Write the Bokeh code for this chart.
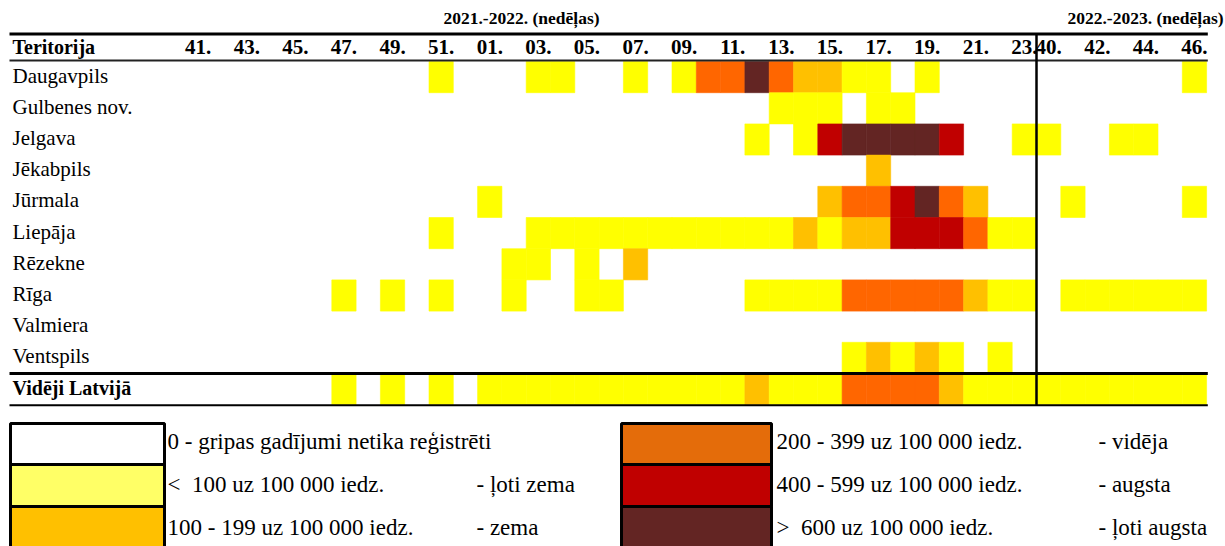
from bokeh.plotting import figure
from bokeh.models import ColumnDataSource, Range1d
from bokeh.embed import file_html
from bokeh.resources import INLINE
from bokeh.core.properties import value

# ---------------- data ----------------
territories = ["Daugavpils", "Gulbenes nov.", "Jelgava", "Jēkabpils", "Jūrmala",
               "Liepāja", "Rēzekne", "Rīga", "Valmiera", "Ventspils", "Vidēji Latvijā"]

weeks_2021 = ["41", "42", "43", "44", "45", "46", "47", "48", "49", "50", "51", "52"]
weeks_2022 = ["01", "02", "03", "04", "05", "06", "07", "08", "09", "10", "11", "12",
              "13", "14", "15", "16", "17", "18", "19", "20", "21", "22", "23"]
weeks_2023 = ["40", "41", "42", "43", "44", "45", "46"]

season_labels = ["2021.-2022. (nedēļas)", "2022.-2023. (nedēļas)"]

# incidence level per week: 0 none, 1 <100, 2 100-199, 3 200-399, 4 400-599, 5 >600
daugavpils = [0, 0, 0, 0, 0, 0, 0, 0, 0, 0, 1, 0,
              0, 0, 1, 1, 0, 0, 1, 0, 1, 3, 3, 5, 3, 2, 2, 1, 1, 0, 1, 0, 0, 0, 0,
              0, 0, 0, 0, 0, 0, 1]
gulbenes = [0, 0, 0, 0, 0, 0, 0, 0, 0, 0, 0, 0,
            0, 0, 0, 0, 0, 0, 0, 0, 0, 0, 0, 0, 1, 1, 1, 0, 1, 1, 0, 0, 0, 0, 0,
            0, 0, 0, 0, 0, 0, 0]
jelgava = [0, 0, 0, 0, 0, 0, 0, 0, 0, 0, 0, 0,
           0, 0, 0, 0, 0, 0, 0, 0, 0, 0, 0, 1, 0, 1, 4, 5, 5, 5, 5, 4, 0, 0, 1,
           1, 0, 0, 1, 1, 0, 0]
jekabpils = [0, 0, 0, 0, 0, 0, 0, 0, 0, 0, 0, 0,
             0, 0, 0, 0, 0, 0, 0, 0, 0, 0, 0, 0, 0, 0, 0, 0, 2, 0, 0, 0, 0, 0, 0,
             0, 0, 0, 0, 0, 0, 0]
jurmala = [0, 0, 0, 0, 0, 0, 0, 0, 0, 0, 0, 0,
           1, 0, 0, 0, 0, 0, 0, 0, 0, 0, 0, 0, 0, 0, 2, 3, 3, 4, 5, 3, 2, 0, 0,
           0, 1, 0, 0, 0, 0, 1]
liepaja = [0, 0, 0, 0, 0, 0, 0, 0, 0, 0, 1, 0,
           0, 0, 1, 1, 1, 1, 1, 1, 1, 1, 1, 1, 1, 2, 1, 2, 2, 4, 4, 4, 3, 1, 1,
           0, 0, 0, 0, 0, 0, 0]
rezekne = [0, 0, 0, 0, 0, 0, 0, 0, 0, 0, 0, 0,
           0, 1, 1, 0, 1, 0, 2, 0, 0, 0, 0, 0, 0, 0, 0, 0, 0, 0, 0, 0, 0, 0, 0,
           0, 0, 0, 0, 0, 0, 0]
riga = [0, 0, 0, 0, 0, 0, 1, 0, 1, 0, 1, 0,
        0, 1, 0, 0, 1, 1, 0, 0, 0, 0, 0, 1, 1, 1, 1, 3, 3, 3, 3, 3, 2, 1, 1,
        0, 1, 1, 1, 1, 1, 1]
valmiera = [0, 0, 0, 0, 0, 0, 0, 0, 0, 0, 0, 0,
            0, 0, 0, 0, 0, 0, 0, 0, 0, 0, 0, 0, 0, 0, 0, 0, 0, 0, 0, 0, 0, 0, 0,
            0, 0, 0, 0, 0, 0, 0]
ventspils = [0, 0, 0, 0, 0, 0, 0, 0, 0, 0, 0, 0,
             0, 0, 0, 0, 0, 0, 0, 0, 0, 0, 0, 0, 0, 0, 0, 1, 2, 1, 2, 1, 0, 1, 0,
             0, 0, 0, 0, 0, 0, 0]
videji = [0, 0, 0, 0, 0, 0, 1, 0, 1, 0, 1, 0,
          1, 1, 1, 1, 1, 1, 1, 1, 1, 1, 1, 2, 1, 1, 1, 3, 3, 3, 3, 2, 1, 1, 1,
          1, 1, 1, 1, 1, 1, 1]

series = [daugavpils, gulbenes, jelgava, jekabpils, jurmala, liepaja,
          rezekne, riga, valmiera, ventspils, videji]

level_colors = ["#FFFFFF", "#FFFF00", "#FFC000", "#FF6600", "#C00000", "#632523"]
legend_colors = ["#FFFFFF", "#FFFF66", "#FFC000", "#E46C0A", "#C00000", "#632523"]
legend_ranges = ["0 - gripas gadījumi netika reģistrēti",
                 "<\u00a0\u00a0100 uz 100 000 iedz.",
                 "100 - 199 uz 100 000 iedz.",
                 "200 - 399 uz 100 000 iedz.",
                 "400 - 599 uz 100 000 iedz.",
                 ">\u00a0\u00a0600 uz 100 000 iedz."]
legend_levels = ["", "- ļoti zema", "- zema", "- vidēja", "- augsta", "- ļoti augsta"]

# ---------------- layout ----------------
FIG_W, FIG_H = 1225, 546
ORG = 0                   # page origin of the canvas (template has no margin)
X0, CW = 185.5, 24.3      # pixel x of first week column, column width
Y0, RH = 61.0, 31.2       # pixel y of first territory row, row height
TDY = -10.0               # text baseline correction
FONT = value("Liberation Serif")


def px(x):
    return (x - X0) / CW


def py(y):
    return (y - Y0) / RH


def ty(y):
    return py(y + TDY)


all_weeks = weeks_2021 + weeks_2022 + weeks_2023
n_first = len(weeks_2021) + len(weeks_2022)
n_cols = len(all_weeks)

p = figure(width=FIG_W, height=FIG_H,
           x_range=Range1d(px(ORG), px(ORG + FIG_W)),
           y_range=Range1d(py(ORG + FIG_H), py(ORG)),
           output_backend="svg", toolbar_location=None, min_border=0,
           x_axis_location=None, y_axis_location=None)
p.grid.visible = False
p.outline_line_color = None
p.background_fill_color = "white"
p.border_fill_color = "white"

# heat cells
cl, cr, ct, cb, cc = [], [], [], [], []
for r, lv in enumerate(series):
    for c, v in enumerate(lv):
        if v > 0:
            cl.append(c)
            cr.append(c + 1)
            ct.append(r)
            cb.append(r + 1)
            cc.append(level_colors[v])
cells = ColumnDataSource(dict(left=cl, right=cr, top=ct, bottom=cb, color=cc))
p.quad(left="left", right="right", top="top", bottom="bottom", source=cells,
       fill_color="color", line_color="color", line_width=0.6)

# week labels (every second week within each season)
tx, tt = [], []
for i, w in enumerate(all_weeks):
    start = 0 if i < n_first else n_first
    if (i - start) % 2 == 0:
        tx.append(i + 0.5)
        tt.append(w + ".")
p.text(x=tx, y=[ty(56)] * len(tx), text=tt, text_font=FONT, text_font_style="bold",
       text_font_size="21px", text_align="center", text_baseline="alphabetic",
       text_color="black")

# header
p.text(x=[px(12)], y=[ty(56)], text=["Teritorija"], text_font=FONT,
       text_font_style="bold", text_font_size="20px", text_align="left",
       text_baseline="alphabetic", text_color="black")
p.text(x=[px(521), px(1145)], y=[ty(27), ty(27)], text=season_labels,
       text_font=FONT, text_font_style="bold", text_font_size="17.5px",
       text_align="center", text_baseline="alphabetic", text_color="black")

# row labels
n_rows = len(territories)
row_base = [Y0 + RH * r + 24 for r in range(n_rows)]
p.text(x=[px(12)] * (n_rows - 1), y=[ty(b) for b in row_base[:-1]],
       text=territories[:-1], text_font=FONT, text_font_size="21px",
       text_align="left", text_baseline="alphabetic", text_color="black")
p.text(x=[px(12)], y=[ty(row_base[-1])], text=territories[-1:], text_font=FONT,
       text_font_style="bold", text_font_size="20px", text_align="left",
       text_baseline="alphabetic", text_color="black")

# table rules
right_edge = n_cols + 0.05
p.segment(x0=[px(9)], y0=[py(33.5)], x1=[right_edge], y1=[py(33.5)],
          line_color="black", line_width=3)
p.segment(x0=[px(9)], y0=[py(60)], x1=[right_edge], y1=[py(60)],
          line_color="#222222", line_width=2)
p.segment(x0=[px(9)], y0=[n_rows - 1], x1=[right_edge], y1=[n_rows - 1],
          line_color="black", line_width=3)
p.segment(x0=[px(9)], y0=[n_rows + 0.02], x1=[right_edge], y1=[n_rows + 0.02],
          line_color="black", line_width=2)
p.segment(x0=[n_first], y0=[py(33)], x1=[n_first], y1=[n_rows + 0.02],
          line_color="black", line_width=2.5)

# legend
box_x = [(10, 164), (621, 771)]
box_y = [(423, 464), (464, 506), (506, 548)]
text_x = [(167, 476), (776, 1098)]
base_y = [451, 494, 537]
for k in range(6):
    col, row = divmod(k, 3)
    (bx0, bx1), (by0, by1) = box_x[col], box_y[row]
    p.quad(left=[px(bx0)], right=[px(bx1)], top=[py(by0)], bottom=[py(by1)],
           fill_color=legend_colors[k], line_color="black", line_width=3)
    p.text(x=[px(text_x[col][0])], y=[ty(base_y[row])], text=[legend_ranges[k]],
           text_font=FONT, text_font_size="23px", text_align="left",
           text_baseline="alphabetic", text_color="black")
    if legend_levels[k]:
        p.text(x=[px(text_x[col][1])], y=[ty(base_y[row])], text=[legend_levels[k]],
               text_font=FONT, text_font_size="23px", text_align="left",
               text_baseline="alphabetic", text_color="black")

open("out.html", "w").write(file_html(p, INLINE))
